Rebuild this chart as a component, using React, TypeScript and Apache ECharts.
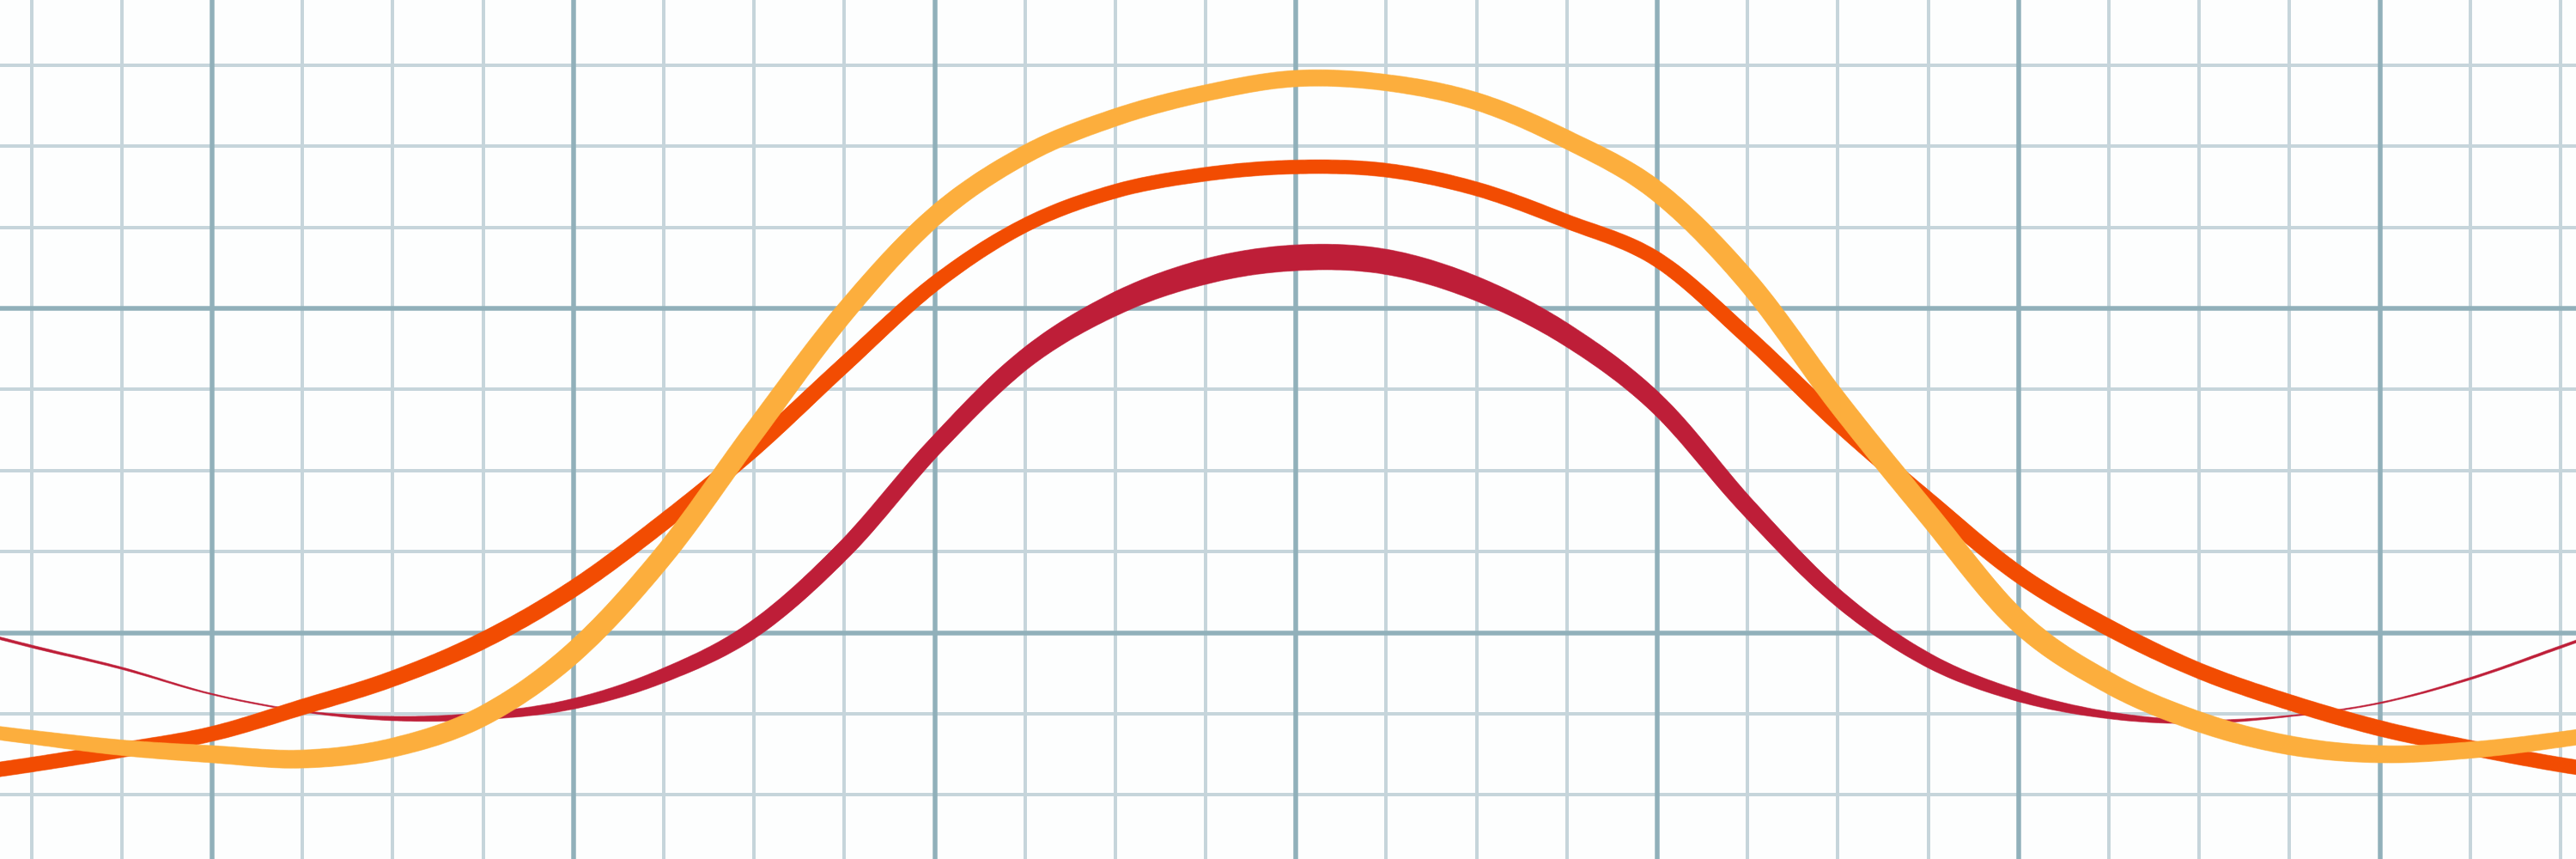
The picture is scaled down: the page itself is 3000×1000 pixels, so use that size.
import React, { useEffect, useRef } from 'react';
import * as echarts from 'echarts';

// x positions, counted in small grid squares from the centre line
const xSquares = [
  -15, -14, -13, -12, -11, -10, -9, -8, -7, -6, -5, -4, -3, -2, -1, 0,
  1, 2, 3, 4, 5, 6, 7, 8, 9, 10, 11, 12, 13, 14, 15,
];

// curve heights, in small grid squares above the lowest heavy line
const crimsonValues = [
  4.12, 3.83, 3.56, 3.24, 3.03, 2.94, 2.97, 3.12, 3.47, 4.04, 5.02, 6.29, 7.37, 8.05, 8.45, 8.62,
  8.57, 8.24, 7.67, 6.82, 5.55, 4.43, 3.66, 3.22, 2.98, 2.9, 2.97, 3.13, 3.43, 3.82, 4.22,
];
const orangeValues = [
  2.21, 2.37, 2.55, 2.75, 3.08, 3.43, 3.9, 4.54, 5.36, 6.27, 7.3, 8.3, 9.02, 9.44, 9.65, 9.74,
  9.7, 9.47, 9.07, 8.6, 7.65, 6.59, 5.63, 4.72, 4.06, 3.53, 3.14, 2.82, 2.58, 2.37, 2.21,
];
const yellowValues = [
  2.85, 2.71, 2.58, 2.5, 2.44, 2.58, 2.97, 3.75, 4.95, 6.47, 7.94, 9.13, 9.89, 10.35, 10.65, 10.83,
  10.78, 10.55, 10.08, 9.44, 8.33, 6.84, 5.46, 4.14, 3.38, 2.9, 2.61, 2.5, 2.55, 2.68, 2.85,
];

// stroke width (px) along each curve, the pen is not even
const crimsonWidths = [
  3, 3, 2.5, 1.5, 1.5, 5, 8, 12, 16, 19, 20, 20, 22, 26, 29, 30,
  29, 27, 24, 22, 20, 18, 16, 13, 8, 4, 1.5, 1.5, 2.5, 3, 3,
];
const orangeWidths = [
  17, 17, 17, 17, 18, 18, 19, 19, 19, 19, 18, 17, 16, 16, 16, 16,
  16, 16, 16, 17, 18, 19, 19, 19, 19, 18, 18, 18, 17, 17, 17,
];
const yellowWidths = [
  15, 16, 18, 20, 21, 22, 23, 24, 24, 24, 23, 22, 21, 20, 19, 19,
  19, 20, 21, 23, 24, 25, 25, 25, 24, 23, 22, 20, 19, 18, 17,
];

const catmull = (p0: number, p1: number, p2: number, p3: number, t: number) => {
  const t2 = t * t;
  const t3 = t2 * t;
  return 0.5 * (2 * p1 + (-p0 + p2) * t + (2 * p0 - 5 * p1 + 4 * p2 - p3) * t2 + (-p0 + 3 * p1 - 3 * p2 + p3) * t3);
};

// a smooth curve drawn as a filled ribbon so its width can change along the way
const ribbon = (name: string, values: number[], widths: number[], color: string, z: number) => ({
  type: 'custom',
  name,
  clip: false,
  z,
  data: xSquares.map((x, i) => [x, values[i]]),
  renderItem: (params: any, api: any) => {
    if (params.dataIndex !== 0) return null;
    const pts = xSquares.map((x, i) => api.coord([x, values[i]]));
    const n = pts.length;
    const steps = 20;
    const samples: number[][] = [];
    const ws: number[] = [];
    for (let i = 0; i < n - 1; i++) {
      const p0 = pts[Math.max(i - 1, 0)];
      const p1 = pts[i];
      const p2 = pts[i + 1];
      const p3 = pts[Math.min(i + 2, n - 1)];
      for (let s = 0; s < steps; s++) {
        const t = s / steps;
        samples.push([catmull(p0[0], p1[0], p2[0], p3[0], t), catmull(p0[1], p1[1], p2[1], p3[1], t)]);
        ws.push(widths[i] + (widths[i + 1] - widths[i]) * t);
      }
    }
    samples.push(pts[n - 1]);
    ws.push(widths[n - 1]);

    const left: number[][] = [];
    const right: number[][] = [];
    for (let j = 0; j < samples.length; j++) {
      const a = samples[Math.max(j - 1, 0)];
      const b = samples[Math.min(j + 1, samples.length - 1)];
      const dx = b[0] - a[0];
      const dy = b[1] - a[1];
      const len = Math.hypot(dx, dy) || 1;
      const nx = -dy / len;
      const ny = dx / len;
      const h = ws[j] / 2;
      left.push([samples[j][0] + nx * h, samples[j][1] + ny * h]);
      right.push([samples[j][0] - nx * h, samples[j][1] - ny * h]);
    }
    return {
      type: 'polygon',
      shape: { points: left.concat(right.reverse()) },
      style: { fill: color, stroke: color, lineWidth: 0.6 },
    };
  },
});

const hidden = { axisLine: { show: false }, axisTick: { show: false }, axisLabel: { show: false } };
const minorLine = { show: true, lineStyle: { color: '#c6d5db', width: 4 } };
const majorLine = { show: true, lineStyle: { color: '#91b0ba', width: 5.5 } };

const App: React.FC = () => {
  const chartRef = useRef<HTMLDivElement>(null);

  useEffect(() => {
    if (!chartRef.current) return;
    const chart = echarts.init(chartRef.current, undefined, { renderer: 'svg' });
    chart.setOption({
      animation: false,
      backgroundColor: '#fdfefe',
      grid: { left: 0, right: 0, top: 0, bottom: 0 },
      xAxis: [
        { type: 'value', min: -16, max: 16, interval: 1, ...hidden, splitLine: minorLine, z: 0 },
        { type: 'value', min: -16, max: 16, interval: 4, ...hidden, splitLine: majorLine, z: 1 },
      ],
      yAxis: [
        { type: 'value', min: 0, max: 12, interval: 1, ...hidden, splitLine: minorLine, z: 0 },
        { type: 'value', min: 0, max: 12, interval: 4, ...hidden, splitLine: majorLine, z: 1 },
      ],
      series: [
        ribbon('crimson', crimsonValues, crimsonWidths, '#be1e38', 3),
        ribbon('orange', orangeValues, orangeWidths, '#f24c02', 4),
        ribbon('yellow', yellowValues, yellowWidths, '#fcae3d', 5),
      ],
    });
    return () => chart.dispose();
  }, []);

  return (
    <div style={{ position: 'fixed', left: 0, top: 0, width: 3000, height: 1000, overflow: 'hidden', background: '#fdfefe' }}>
      <div ref={chartRef} style={{ position: 'absolute', left: -174, top: -19, width: 3366, height: 1133 }} />
    </div>
  );
};

export default App;
